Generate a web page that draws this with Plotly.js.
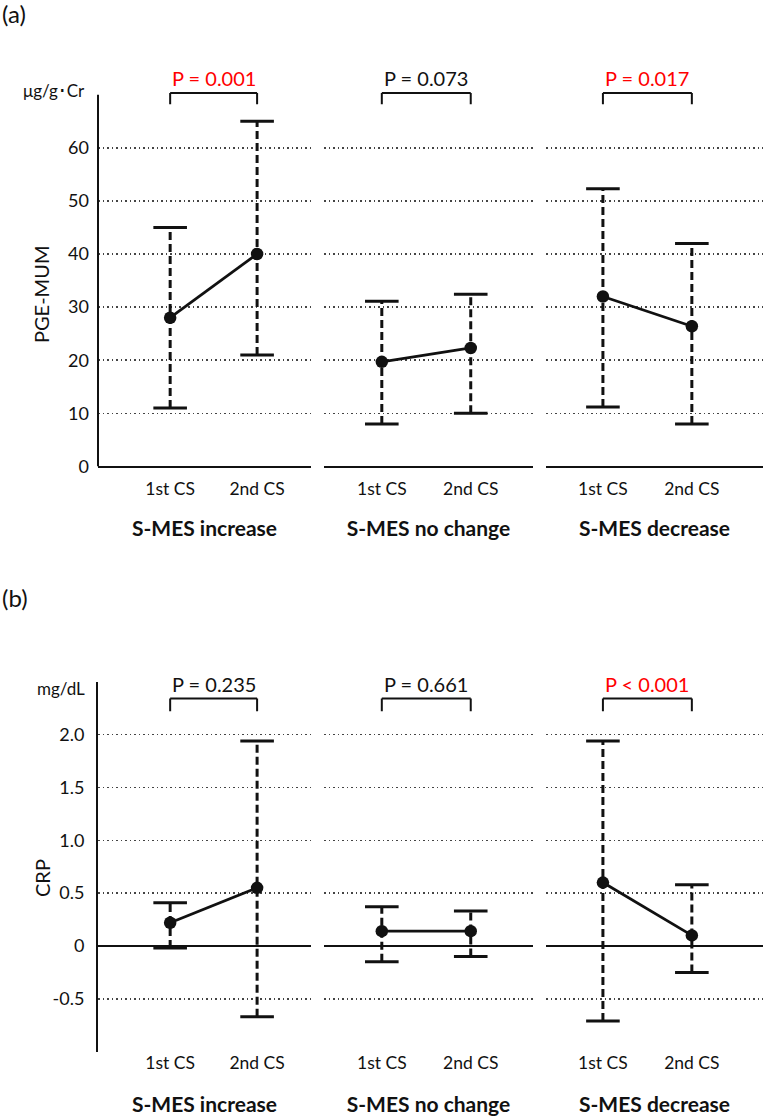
<!DOCTYPE html>
<html>
<head>
<meta charset="utf-8">
<script src="https://cdn.plot.ly/plotly-3.0.1.min.js"></script>
<style>html,body{margin:0;padding:0;background:#fff;}#chart{width:765px;height:1116px;}</style>
</head>
<body>
<div id="chart"></div>
<script>
// ---- data ----
const groups = ['S-MES increase', 'S-MES no change', 'S-MES decrease'];
const visits = ['1st CS', '2nd CS'];

const pgeMean  = [[28.0, 40.0], [19.7, 22.3], [32.0, 26.4]];
const pgeUpper = [[45.0, 65.0], [31.1, 32.4], [52.3, 42.0]];
const pgeLower = [[11.0, 21.0], [8.0, 10.0], [11.2, 8.0]];
const pgeP     = ['P = 0.001', 'P = 0.073', 'P = 0.017'];
const pgeSig   = [true, false, true];

const crpMean  = [[0.22, 0.55], [0.14, 0.14], [0.60, 0.10]];
const crpUpper = [[0.41, 1.94], [0.37, 0.33], [1.94, 0.58]];
const crpLower = [[-0.02, -0.67], [-0.15, -0.10], [-0.71, -0.25]];
const crpP     = ['P = 0.235', 'P = 0.661', 'P < 0.001'];
const crpSig   = [false, false, true];

const pgeTicks = [0, 10, 20, 30, 40, 50, 60];
const pgeTickText = ['0', '10', '20', '30', '40', '50', '60'];
const crpTicks = [-0.5, 0, 0.5, 1.0, 1.5, 2.0];
const crpTickText = ['-0.5', '0', '0.5', '1.0', '1.5', '2.0'];

// ---- layout helpers ----
const W = 765, H = 1116;
const FONT = 'Lato, "Noto Sans", sans-serif';
const BLACK = '#111111';
const RED = '#ff0000';
const xDomPx = [[98, 311], [324, 533], [546, 763]];
const xRanges = [[-0.83, 1.62], [-0.65, 1.70], [-0.64, 1.80]];
const rowA = {dom: [(H - 466.4) / H, (H - 89.4) / H], range: [0, 71], axisTop: 70, brTop: 70.3, brBot: 68.2};
const rowB = {dom: [(H - 1051.7) / H, (H - 681.7) / H], range: [-1, 2.5], brTop: 2.34, brBot: 2.22};

const traces = [];
const layout = {
  width: W, height: H,
  margin: {l: 0, r: 0, t: 0, b: 0},
  paper_bgcolor: '#ffffff', plot_bgcolor: '#ffffff',
  showlegend: false,
  font: {family: FONT, color: BLACK},
  shapes: [], annotations: []
};

function addRow(rowIdx, row, mean, upper, lower, pTexts, sig, ticks, tickText) {
  for (let g = 0; g < 3; g++) {
    const n = rowIdx * 3 + g + 1;
    const xk = n === 1 ? 'x' : 'x' + n;
    const yk = n === 1 ? 'y' : 'y' + n;
    // dashed whiskers with solid caps
    for (let v = 0; v < 2; v++) {
      traces.push({
        type: 'scatter', mode: 'lines', xaxis: xk, yaxis: yk,
        x: [visits[v], visits[v]], y: [lower[g][v], upper[g][v]],
        line: {color: BLACK, width: 3, dash: '8px,4px'}, hoverinfo: 'skip'
      });
      traces.push({
        type: 'scatter', mode: 'markers', xaxis: xk, yaxis: yk,
        x: [visits[v], visits[v]], y: [lower[g][v], upper[g][v]],
        marker: {symbol: 'line-ew', size: 24, color: BLACK, line: {color: BLACK, width: 3}},
        hoverinfo: 'skip'
      });
    }
    // means
    traces.push({
      type: 'scatter', mode: 'lines+markers', xaxis: xk, yaxis: yk,
      x: visits, y: mean[g],
      line: {color: BLACK, width: 2.8},
      marker: {color: BLACK, size: 12.5}
    });
    const xa = {
      domain: [xDomPx[g][0] / W, xDomPx[g][1] / W],
      anchor: yk, type: 'category', range: xRanges[g],
      showgrid: false, zeroline: false,
      showline: rowIdx === 0, linecolor: BLACK, linewidth: 2,
      ticks: '', tickfont: {size: 17.5, color: BLACK, family: FONT},
      ticklabelstandoff: rowIdx === 0 ? 6 : -1,
      title: {text: groups[g], font: {size: 21, weight: 700, color: BLACK, family: FONT},
              standoff: rowIdx === 0 ? 23 : 25},
      automargin: false, fixedrange: true
    };
    const ya = {
      domain: row.dom, anchor: xk, range: row.range,
      tickvals: ticks, ticktext: tickText,
      showticklabels: g === 0, ticks: '',
      tickfont: {size: 18, color: BLACK, family: FONT},
      ticklabelstandoff: 8,
      showgrid: true, gridcolor: '#444444', gridwidth: 1.5, griddash: '1.5px,3px',
      zeroline: rowIdx === 1, zerolinecolor: BLACK, zerolinewidth: 1.2,
      showline: rowIdx === 1 && g === 0, linecolor: BLACK, linewidth: 2,
      automargin: false, fixedrange: true
    };
    layout[n === 1 ? 'xaxis' : 'xaxis' + n] = xa;
    layout[n === 1 ? 'yaxis' : 'yaxis' + n] = ya;
    // bracket
    const br = {color: BLACK, width: 2};
    layout.shapes.push({type: 'line', xref: xk, yref: yk, x0: 0, x1: 0, y0: row.brBot, y1: row.brTop, line: br});
    layout.shapes.push({type: 'line', xref: xk, yref: yk, x0: 0, x1: 1, y0: row.brTop, y1: row.brTop, line: br});
    layout.shapes.push({type: 'line', xref: xk, yref: yk, x0: 1, x1: 1, y0: row.brBot, y1: row.brTop, line: br});
    layout.annotations.push({
      xref: xk, yref: yk, x: 0.5, y: row.brTop, yanchor: 'bottom', xanchor: 'center',
      yshift: 1, showarrow: false, text: pTexts[g],
      font: {size: 20, color: sig[g] ? RED : BLACK, family: FONT}
    });
  }
}

addRow(0, rowA, pgeMean, pgeUpper, pgeLower, pgeP, pgeSig, pgeTicks, pgeTickText);
addRow(1, rowB, crpMean, crpUpper, crpLower, crpP, crpSig, crpTicks, crpTickText);

// y-axis line of panel (a), ending at 70
layout.shapes.push({type: 'line', xref: 'x domain', yref: 'y', x0: 0, x1: 0, y0: 0, y1: rowA.axisTop,
                    line: {color: BLACK, width: 2}});

// titles, units, panel letters
layout.annotations.push(
  {xref: 'paper', yref: 'paper', x: 0, y: 1 - 14 / H, xanchor: 'left', yanchor: 'middle', showarrow: false,
   text: '(a)', font: {size: 24, color: BLACK, family: FONT}},
  {xref: 'paper', yref: 'paper', x: 0, y: 1 - 597 / H, xanchor: 'left', yanchor: 'middle', showarrow: false,
   text: '(b)', font: {size: 24, color: BLACK, family: FONT}},
  {xref: 'paper', yref: 'paper', x: 87 / W, y: 1 - 91 / H, xanchor: 'right', yanchor: 'middle', showarrow: false,
   text: 'μg/g･Cr', font: {size: 17, color: BLACK, family: FONT}},
  {xref: 'paper', yref: 'paper', x: 87 / W, y: 1 - 688 / H, xanchor: 'right', yanchor: 'middle', showarrow: false,
   text: 'mg/dL', font: {size: 17, color: BLACK, family: FONT}},
  {xref: 'paper', yref: 'paper', x: 41 / W, y: 1 - 295 / H, xanchor: 'center', yanchor: 'middle', showarrow: false,
   textangle: -90, text: 'PGE-MUM', font: {size: 20, color: BLACK, family: FONT}},
  {xref: 'paper', yref: 'paper', x: 42 / W, y: 1 - 878 / H, xanchor: 'center', yanchor: 'middle', showarrow: false,
   textangle: -90, text: 'CRP', font: {size: 20, color: BLACK, family: FONT}}
);

Plotly.newPlot('chart', traces, layout, {staticPlot: true, displayModeBar: false});
</script>
</body>
</html>
